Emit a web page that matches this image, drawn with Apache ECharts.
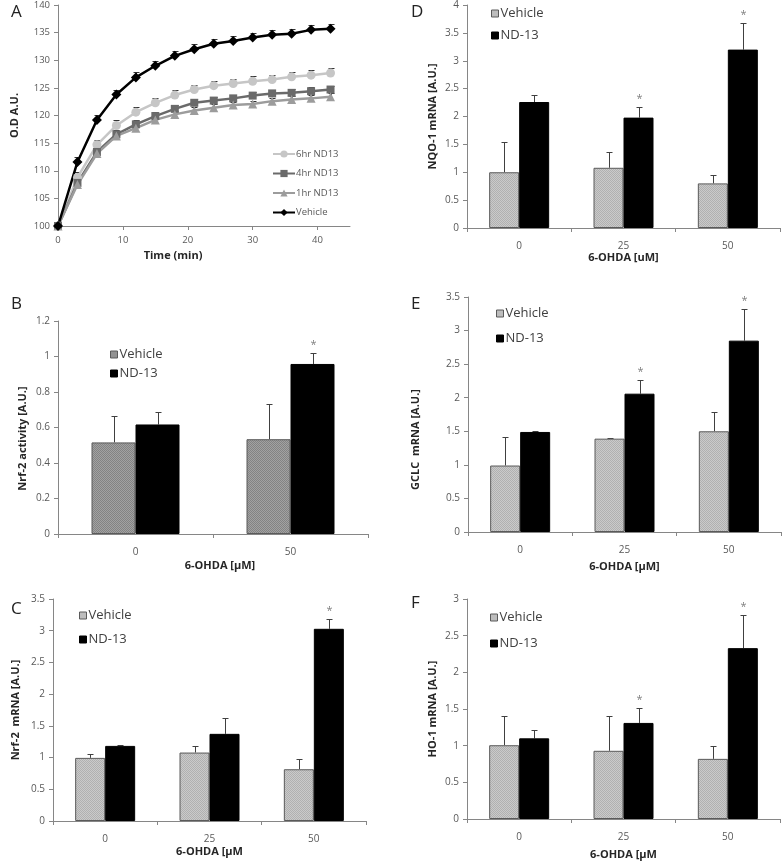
<!DOCTYPE html>
<html><head><meta charset="utf-8">
<script src="https://cdn.jsdelivr.net/npm/echarts@6/dist/echarts.min.js"></script>
<style>html,body{margin:0;padding:0;background:#fff}#c{width:783px;height:861px}</style>
</head><body><div id="c"></div><script>
// ---------- Panel A data ----------
const timeMin   = [0, 3, 6, 9, 12, 15, 18, 21, 24, 27, 30, 33, 36, 39, 42];
const od6hr     = [100, 108.8, 114.7, 118.2, 120.6, 122.3, 123.7, 124.7, 125.4, 125.8, 126.2, 126.5, 127.0, 127.3, 127.7];
const od4hr     = [100, 107.8, 113.4, 116.6, 118.4, 119.9, 121.2, 122.3, 122.7, 123.1, 123.6, 124.0, 124.1, 124.4, 124.7];
const od1hr     = [100, 107.5, 113.1, 116.3, 117.7, 119.2, 120.2, 120.9, 121.4, 121.9, 122.1, 122.6, 122.9, 123.1, 123.4];
const odVehicle = [100, 111.6, 119.2, 123.8, 126.9, 129.0, 130.8, 132.0, 133.0, 133.5, 134.1, 134.6, 134.8, 135.5, 135.7];
const od6hrErr     = [0, 0.9, 0.9, 0.9, 0.9, 0.9, 0.9, 0.9, 0.8, 0.8, 0.9, 0.9, 0.9, 0.9, 0.9];
const od4hrErr     = [0, 0.7, 0.7, 0.7, 0.7, 0.7, 0.7, 0.7, 0.7, 0.7, 0.7, 0.7, 0.7, 0.7, 0.7];
const od1hrErr     = [0, 0.6, 0.6, 0.6, 0.6, 0.6, 0.6, 0.6, 0.6, 0.6, 0.6, 0.6, 0.6, 0.6, 0.6];
const odVehicleErr = [0, 0.9, 0.9, 0.9, 0.9, 0.9, 0.9, 0.9, 0.9, 0.9, 0.9, 0.9, 0.9, 0.9, 0.9];
const odTicks = { min: 100, max: 140, step: 5 };
const timeTicks = { min: 0, max: 45, step: 10 };

// ---------- Bar panels data ----------
const doseB = ['0', '50'];
const nrf2ActVehicle    = [0.516, 0.534];
const nrf2ActVehicleErr = [0.148, 0.200];
const nrf2ActNd13       = [0.617, 0.958];
const nrf2ActNd13Err    = [0.073, 0.064];
const nrf2ActSig        = [0, 1];

const dose3 = ['0', '25', '50'];
const nrf2MrnaVehicle    = [0.995, 1.079, 0.816];
const nrf2MrnaVehicleErr = [0.055, 0.110, 0.155];
const nrf2MrnaNd13       = [1.184, 1.374, 3.030];
const nrf2MrnaNd13Err    = [0.016, 0.245, 0.150];
const nrf2MrnaSig        = [0, 0, 1];

const nqo1Vehicle    = [1.00, 1.08, 0.80];
const nqo1VehicleErr = [0.54, 0.285, 0.15];
const nqo1Nd13       = [2.26, 1.98, 3.20];
const nqo1Nd13Err    = [0.12, 0.19, 0.48];
const nqo1Sig        = [0, 1, 1];

const gclcVehicle    = [0.99, 1.39, 1.50];
const gclcVehicleErr = [0.42, 0.01, 0.29];
const gclcNd13       = [1.49, 2.06, 2.85];
const gclcNd13Err    = [0.01, 0.20, 0.47];
const gclcSig        = [0, 1, 1];

const ho1Vehicle    = [1.006, 0.93, 0.82];
const ho1VehicleErr = [0.40, 0.47, 0.18];
const ho1Nd13       = [1.10, 1.31, 2.33];
const ho1Nd13Err    = [0.12, 0.20, 0.45];
const ho1Sig        = [0, 1, 1];

// ---------- styling helpers ----------
const FONT = '"Open Sans", "DejaVu Sans", sans-serif';
const AXIS_COLOR = '#868686';
const LABEL_COLOR = '#595959';
const TITLE_COLOR = '#262626';

function checker(c1, c2) {
  const cv = document.createElement('canvas');
  cv.width = 2; cv.height = 2;
  const ctx = cv.getContext('2d');
  ctx.fillStyle = c1; ctx.fillRect(0, 0, 2, 2);
  ctx.fillStyle = c2; ctx.fillRect(0, 0, 1, 1); ctx.fillRect(1, 1, 1, 1);
  return { image: cv, repeat: 'repeat' };
}
const patDark = checker('#a2a2a2', '#838383');
const patLight = checker('#cacaca', '#b0b0b0');

function errRender(offsetPx, capHalf, color, withStar) {
  return function (params, api) {
    const x = api.value(0), y = api.value(1), e = api.value(2), s = api.value(3);
    const p0 = api.coord([x, y]);
    const p1 = api.coord([x, y + e]);
    const cx = Math.round(p0[0] + offsetPx) + 0.5;
    const ty = Math.round(p1[1]) + 0.5;
    const children = [
      { type: 'line', shape: { x1: cx, y1: p0[1], x2: cx, y2: ty }, style: { stroke: color, lineWidth: 1 } },
      { type: 'line', shape: { x1: cx - capHalf, y1: ty, x2: cx + capHalf, y2: ty }, style: { stroke: color, lineWidth: 1 } }
    ];
    if (withStar && s) {
      children.push({ type: 'text', x: cx, y: ty - 9,
        style: { text: '*', fill: '#7f7f7f', font: '11px ' + FONT, align: 'center', verticalAlign: 'middle' } });
    }
    return { type: 'group', children };
  };
}

function valueAxisY(gi, min, max, step, name, nameGap, pad, fs) {
  return {
    type: 'value', gridIndex: gi, min, max, interval: step,
    name, nameLocation: 'middle', nameGap,
    nameTextStyle: { fontFamily: FONT, fontSize: 11, fontWeight: 'bold', color: TITLE_COLOR, padding: pad || 0 },
    axisLine: { show: true, lineStyle: { color: AXIS_COLOR } },
    axisTick: { show: true, length: 4, lineStyle: { color: AXIS_COLOR } },
    axisLabel: { fontFamily: FONT, fontSize: fs || 10, color: LABEL_COLOR, margin: 8 },
    splitLine: { show: false }
  };
}
function catAxisX(gi, cats, name, nameGap, pad) {
  return {
    type: 'category', gridIndex: gi, data: cats,
    name, nameLocation: 'middle', nameGap,
    nameTextStyle: { fontFamily: FONT, fontSize: 11, fontWeight: 'bold', color: TITLE_COLOR, padding: pad || 0 },
    axisLine: { show: true, lineStyle: { color: AXIS_COLOR } },
    axisTick: { show: true, length: 4, alignWithLabel: false, lineStyle: { color: AXIS_COLOR } },
    axisLabel: { fontFamily: FONT, fontSize: 10, color: LABEL_COLOR, margin: 13 },
    splitLine: { show: false }
  };
}

// layout of each bar panel
const barPanels = [
  { gi: 1, cats: doseB, veh: nrf2ActVehicle, vehErr: nrf2ActVehicleErr, nd: nrf2ActNd13, ndErr: nrf2ActNd13Err, sig: nrf2ActSig,
    ymax: 1.2, step: 0.2, yname: 'Nrf-2 activity [A.U.]', ygap: 30, ypad: [0, 22, 0, 0], xname: '6-OHDA [\u00b5M]', xgap: 26, xpad: [0, 0, 0, 14],
    bw: 44, pat: patDark, legend: { left: 110, top: 348, itemGap: 6 } },
  { gi: 2, cats: dose3, veh: nrf2MrnaVehicle, vehErr: nrf2MrnaVehicleErr, nd: nrf2MrnaNd13, ndErr: nrf2MrnaNd13Err, sig: nrf2MrnaSig,
    ymax: 3.5, step: 0.5, yname: 'Nrf-2  mRNA [A.U.]', ygap: 32, xname: '6-OHDA [\u00b5M', xgap: 25,
    bw: 30, pat: patLight, legend: { left: 79, top: 609, itemGap: 11 } },
  { gi: 3, cats: dose3, veh: nqo1Vehicle, vehErr: nqo1VehicleErr, nd: nqo1Nd13, ndErr: nqo1Nd13Err, sig: nqo1Sig,
    ymax: 4, step: 0.5, yname: 'NQO-1 mRNA [A.U.]', ygap: 29, xname: '6-OHDA [uM]', xgap: 24,
    bw: 30, pat: patLight, legend: { left: 491, top: 7, itemGap: 9 } },
  { gi: 4, cats: dose3, veh: gclcVehicle, vehErr: gclcVehicleErr, nd: gclcNd13, ndErr: gclcNd13Err, sig: gclcSig,
    ymax: 3.5, step: 0.5, yname: 'GCLC  mRNA [A.U.]', ygap: 47, ypad: [0, 50, 0, 0], xname: '6-OHDA [\u00b5M]', xgap: 29,
    bw: 30, pat: patLight, legend: { left: 496, top: 307, itemGap: 12 } },
  { gi: 5, cats: dose3, veh: ho1Vehicle, vehErr: ho1VehicleErr, nd: ho1Nd13, ndErr: ho1Nd13Err, sig: ho1Sig,
    ymax: 3, step: 0.5, yname: 'HO-1 mRNA [A.U.]', ygap: 29, xname: '6-OHDA [\u00b5M', xgap: 30,
    bw: 30, pat: patLight, legend: { left: 490, top: 611, itemGap: 13 } }
];

const grids = [
  { left: 58, top: 5, width: 292, height: 221 },
  { left: 58, top: 321, width: 310, height: 213 },
  { left: 53, top: 599, width: 313, height: 222 },
  { left: 467, top: 5, width: 313, height: 223 },
  { left: 468, top: 297, width: 313, height: 235 },
  { left: 467, top: 599, width: 313, height: 224 }
];

const xAxes = [{
  type: 'value', gridIndex: 0, min: timeTicks.min, max: timeTicks.max, interval: timeTicks.step,
  name: 'Time (min)', nameLocation: 'middle', nameGap: 24,
  nameTextStyle: { fontFamily: FONT, fontSize: 11, fontWeight: 'bold', color: TITLE_COLOR, padding: [0, 62, 0, 0] },
  axisLine: { show: true, onZero: false, lineStyle: { color: AXIS_COLOR } },
  axisTick: { show: true, length: 4, lineStyle: { color: AXIS_COLOR } },
  axisLabel: { fontFamily: FONT, fontSize: 9.5, color: LABEL_COLOR, margin: 9, showMaxLabel: false },
  splitLine: { show: false }
}];
const yAxes = [valueAxisY(0, odTicks.min, odTicks.max, odTicks.step, 'O.D A.U.', 38, 0, 9.5)];

const series = [];
const lineDefs = [
  { name: '6hr ND13', data: od6hr, err: od6hrErr, color: '#c6c6c6', symbol: 'circle', size: 9 },
  { name: '4hr ND13', data: od4hr, err: od4hrErr, color: '#6a6a6a', symbol: 'rect', size: 8 },
  { name: '1hr ND13', data: od1hr, err: od1hrErr, color: '#9c9c9c', symbol: 'triangle', size: 9 },
  { name: 'Vehicle', data: odVehicle, err: odVehicleErr, color: '#000000', symbol: 'diamond', size: 10 }
];
lineDefs.forEach(d => {
  series.push({
    type: 'custom', xAxisIndex: 0, yAxisIndex: 0, z: 1, silent: true,
    renderItem: errRender(0, 3, '#333', false),
    encode: { x: 0, y: 1 },
    data: timeMin.map((t, i) => [t, d.data[i], d.err[i], 0])
  });
});
lineDefs.forEach(d => {
  series.push({
    type: 'line', name: d.name, xAxisIndex: 0, yAxisIndex: 0, z: 3,
    data: timeMin.map((t, i) => [t, d.data[i]]),
    symbol: d.symbol, symbolSize: d.size, showSymbol: true,
    lineStyle: { color: d.color, width: 2.5 },
    itemStyle: { color: d.color, borderWidth: 0 }
  });
});

const legends = [{
  orient: 'vertical', left: 272, top: 149, padding: 0, itemGap: 9.5, itemWidth: 22, itemHeight: 9,
  data: ['6hr ND13', '4hr ND13', '1hr ND13', 'Vehicle'],
  textStyle: { fontFamily: FONT, fontSize: 9.5, color: LABEL_COLOR, padding: [0, 0, 0, -4] },
  selectedMode: false
}];

barPanels.forEach(p => {
  xAxes.push(catAxisX(p.gi, p.cats, p.xname, p.xgap, p.xpad));
  yAxes.push(valueAxisY(p.gi, 0, p.ymax, p.step, p.yname, p.ygap, p.ypad));
  series.push({
    type: 'bar', name: 'Vehicle', xAxisIndex: p.gi, yAxisIndex: p.gi, data: p.veh,
    barWidth: p.bw, barGap: '0%',
    itemStyle: { color: p.pat, borderColor: '#5a5a5a', borderWidth: 1 }
  });
  series.push({
    type: 'bar', name: 'ND-13', xAxisIndex: p.gi, yAxisIndex: p.gi, data: p.nd,
    barWidth: p.bw, barGap: '0%',
    itemStyle: { color: '#000000', borderColor: '#000000', borderWidth: 1 }
  });
  series.push({
    type: 'custom', xAxisIndex: p.gi, yAxisIndex: p.gi, z: 1, silent: true, encode: { x: 0, y: 1 },
    renderItem: errRender(-p.bw / 2, 3, '#404040', false),
    data: p.cats.map((c, i) => [i, p.veh[i], p.vehErr[i], 0])
  });
  series.push({
    type: 'custom', xAxisIndex: p.gi, yAxisIndex: p.gi, z: 1, silent: true, encode: { x: 0, y: 1 },
    renderItem: errRender(p.bw / 2, 3, '#404040', true),
    data: p.cats.map((c, i) => [i, p.nd[i], p.ndErr[i], p.sig[i]])
  });
  legends.push({
    orient: 'vertical', left: p.legend.left, top: p.legend.top, itemGap: p.legend.itemGap, padding: 0,
    itemWidth: 7, itemHeight: 7, icon: 'rect', selectedMode: false,
    textStyle: { fontFamily: FONT, fontSize: 13, color: '#404040', padding: [0, 0, 0, -3] },
    data: [
      { name: 'Vehicle', itemStyle: { color: p.pat, borderColor: '#5a5a5a', borderWidth: 1 } },
      { name: 'ND-13', itemStyle: { color: '#000', borderColor: '#000', borderWidth: 1 } }
    ]
  });
});

const letterStyle = { fontFamily: FONT, fontSize: 17, fontWeight: 'normal', color: '#222' };
const titles = [
  { text: 'A', left: 11, top: 4 }, { text: 'B', left: 11, top: 296 }, { text: 'C', left: 11, top: 601 },
  { text: 'D', left: 411, top: 4 }, { text: 'E', left: 411, top: 296 }, { text: 'F', left: 411, top: 595 }
].map(t => Object.assign({ padding: 0, textStyle: letterStyle }, t));

const chart = echarts.init(document.getElementById('c'), null, { renderer: 'canvas' });
chart.setOption({
  animation: false,
  backgroundColor: '#ffffff',
  title: titles,
  grid: grids,
  xAxis: xAxes,
  yAxis: yAxes,
  legend: legends,
  series
});
</script></body></html>
